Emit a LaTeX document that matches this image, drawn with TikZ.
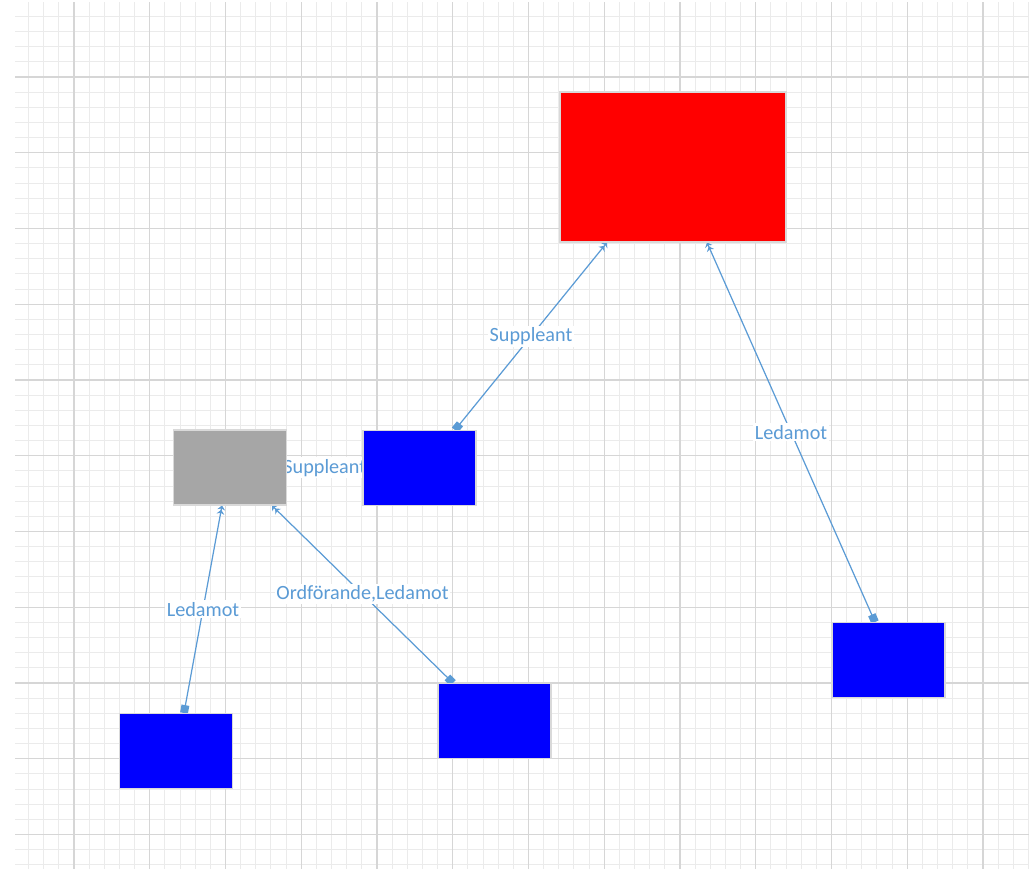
\documentclass[tikz,border=0pt]{standalone}
\usepackage{fontspec}
\setmainfont{Carlito}
\usetikzlibrary{arrows.meta}
\definecolor{conn}{HTML}{5B9BD5}
\definecolor{gridminor}{HTML}{EBEBEB}
\definecolor{gridmajor}{HTML}{D6D6D6}
\definecolor{boxgray}{HTML}{A6A6A6}
\pgfdeclarelayer{grid}
\pgfdeclarelayer{edges}
\pgfsetlayers{grid,edges,main}
\begin{document}
\begin{tikzpicture}[x=0.02cm,y=-0.02cm,
	unit/.style={draw=black!15,line width=0.6pt,minimum width=2.26cm,minimum height=1.5cm,inner sep=0pt},
	link/.style={conn,line width=0.7pt,{Square[length=4.5pt,width=4.5pt]}-{Stealth[length=2.5pt,width=4.5pt]Stealth[length=2.5pt,width=4.5pt]}},
	role/.style={fill=white,inner sep=1pt,text=conn,font=\fontsize{11.5}{13}\selectfont}]
	\useasboundingbox (0,0) rectangle (1029,869);
	% boxes
	\node[unit,fill=red,minimum width=4.52cm,minimum height=3cm] (board) at (673,167) {};
	\node[unit,fill=boxgray] (group) at (230,467.5) {};
	\node[unit,fill=blue] (subst) at (419.5,468) {};
	\node[unit,fill=blue] (memberA) at (176,751) {};
	\node[unit,fill=blue] (chair) at (494.5,721) {};
	\node[unit,fill=blue] (memberB) at (888.5,660) {};
	% grid
	\begin{pgfonlayer}{grid}
		\foreach \k in {-3,...,63}
		\draw[gridminor,line width=0.6pt] ({74+15.15*\k},2)--({74+15.15*\k},869);
		\foreach \k in {-4,...,52}
		\draw[gridminor,line width=0.6pt] (15,{77+15.15*\k})--(1029,{77+15.15*\k});
		\foreach \k in {0,...,12}
		\draw[gridmajor,line width=0.8pt] ({74+75.75*\k},2)--({74+75.75*\k},869);
		\foreach \k in {0,...,10}
		\draw[gridmajor,line width=0.8pt] (15,{77+75.75*\k})--(1029,{77+75.75*\k});
	\end{pgfonlayer}
	% connectors
	\begin{pgfonlayer}{edges}
		\draw[link] ([xshift=0.71cm]subst.north) -- node[role]{Suppleant} ([xshift=-1.32cm]board.south);
		\draw[link] ([xshift=-0.27cm]memberB.north) -- node[role]{Ledamot} ([xshift=0.68cm]board.south);
		\draw[link] ([xshift=0.16cm]memberA.north) -- node[role]{Ledamot} ([xshift=-0.16cm]group.south);
		\draw[link] ([xshift=-0.83cm]chair.north) -- node[role]{Ordförande,Ledamot} ([xshift=0.84cm]group.south);
		\draw[conn,line width=0.7pt] (group.east) -- node[role]{Suppleant} (subst.west);
	\end{pgfonlayer}
\end{tikzpicture}
\end{document}
